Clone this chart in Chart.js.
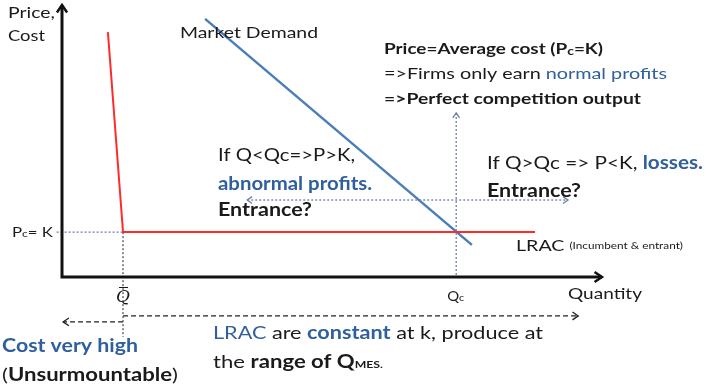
<!DOCTYPE html>
<html lang="en">
<head>
    <meta charset="UTF-8">
    <title>Constant LRAC, entry at Pc = K</title>
    <style>
        body {
            margin: 0;
            background: #fff;
        }
        #chartContainer {
            width: 706px;
            height: 390px;
        }
    </style>
    <script src="https://cdn.jsdelivr.net/npm/chart.js"></script>
</head>
<body>
    <div id="chartContainer">
        <canvas id="myChart"></canvas>
    </div>

    <script>
        // Quantity / cost in arbitrary units (axes run 0..100)
        const lracQty = [8.5, 11.3, 87.6];
        const lracCost = [90, 16.5, 16.5];
        const demandQty = [26.5, 75.9];
        const demandPrice = [94.9, 11.8];
        const qBar = 11.3;     // minimum efficient scale
        const qC = 73;         // perfect competition output
        const kCost = 16.5;    // Pc = K
        const arrowLevel = 28.3;      // level of the "Q<Qc / Q>Qc" arrow
        const arrowFrom = 34.3, arrowTo = 93.7;
        const rangeLevel = -14.3, rangeEnd = 95.6;   // "range of QMES" arrow
        const highLevel = -16.5;                      // "cost very high" arrow

        const pts = (xs, ys) => xs.map((x, i) => ({ x: x, y: ys[i] }));

        const blue = '#4a7ebb';
        const red = '#ff2b2b';
        const guide = '#6d7fa3';
        const textBlue = '#2f5f9e';
        const dark = '#1a1a1a';
        const FONT = 'Lato, "Open Sans", sans-serif';

        // draws a line of mixed-style text, squeezed to a target width
        function runs(ctx, x, y, parts, width) {
            let w = 0;
            parts.forEach(p => {
                ctx.font = (p.bold ? 'bold ' : '') + p.size + 'px ' + FONT;
                p.w = ctx.measureText(p.t).width;
                w += p.w;
            });
            const s = width ? width / w : 1;
            ctx.save();
            ctx.translate(x, y);
            ctx.scale(s, 1);
            ctx.textBaseline = 'middle';
            ctx.textAlign = 'left';
            let cx = 0;
            parts.forEach(p => {
                ctx.font = (p.bold ? 'bold ' : '') + p.size + 'px ' + FONT;
                ctx.fillStyle = p.color || dark;
                ctx.fillText(p.t, cx, p.dy || 0);
                cx += p.w;
            });
            ctx.restore();
        }

        function chevron(ctx, x, y, ang, size, color, lw) {
            ctx.save();
            ctx.strokeStyle = color;
            ctx.lineWidth = lw;
            ctx.setLineDash([]);
            ctx.beginPath();
            ctx.moveTo(x - size * Math.cos(ang - 0.6), y - size * Math.sin(ang - 0.6));
            ctx.lineTo(x, y);
            ctx.lineTo(x - size * Math.cos(ang + 0.6), y - size * Math.sin(ang + 0.6));
            ctx.stroke();
            ctx.restore();
        }

        const annotations = {
            id: 'annotations',
            afterDatasetsDraw(chart) {
                const ctx = chart.ctx;
                const xs = chart.scales.x, ys = chart.scales.y;
                const px = v => xs.getPixelForValue(v);
                const py = v => ys.getPixelForValue(v);

                // axes with arrows
                ctx.save();
                ctx.strokeStyle = '#111';
                ctx.lineWidth = 3;
                ctx.beginPath();
                ctx.moveTo(px(0), py(100));
                ctx.lineTo(px(0), py(0));
                ctx.lineTo(px(100), py(0));
                ctx.stroke();
                ctx.restore();
                chevron(ctx, px(0), py(100), -Math.PI / 2, 9, '#111', 2.5);
                chevron(ctx, px(100), py(0), 0, 9, '#111', 2.5);

                // arrow heads on guide lines
                chevron(ctx, px(qC), py(60.3), -Math.PI / 2, 6, guide, 1.3);
                chevron(ctx, px(arrowFrom), py(arrowLevel), Math.PI, 6, guide, 1.3);
                chevron(ctx, px(arrowTo), py(arrowLevel), 0, 6, guide, 1.3);
                chevron(ctx, px(rangeEnd), py(rangeLevel), 0, 7, '#222', 1.3);
                chevron(ctx, px(0.2), py(highLevel), Math.PI, 7, '#222', 1.3);

                // axis titles
                runs(ctx, 8, 13, [{ t: 'Price,', size: 16 }], 47);
                runs(ctx, 8, 36, [{ t: 'Cost', size: 16 }], 37);
                runs(ctx, 568, 294, [{ t: 'Quantity', size: 16 }], 74);

                // axis marks
                runs(ctx, 12, py(kCost), [
                    { t: 'P', size: 14 }, { t: 'c', size: 10, dy: 2 }, { t: '= K', size: 14 }
                ], 41);
                runs(ctx, px(qC) - 9, 296, [
                    { t: 'Q', size: 14 }, { t: 'c', size: 10, dy: 2 }
                ], 17);
                ctx.save();
                ctx.font = 'italic 17px "DejaVu Serif", serif';
                ctx.fillStyle = dark;
                ctx.textAlign = 'center';
                ctx.textBaseline = 'middle';
                ctx.fillText('Q', px(qBar), 298);
                ctx.strokeStyle = dark;
                ctx.lineWidth = 1;
                ctx.beginPath();
                ctx.moveTo(px(qBar) - 4, 287.5);
                ctx.lineTo(px(qBar) + 5, 287.5);
                ctx.stroke();
                ctx.restore();

                runs(ctx, 180, 33, [{ t: 'Market Demand', size: 15 }], 138);

                runs(ctx, 384, 49, [
                    { t: 'Price=Average cost (P', size: 15, bold: true },
                    { t: 'c', size: 11, bold: true, dy: 2 },
                    { t: '=K)', size: 15, bold: true }
                ], 219);
                runs(ctx, 384, 74, [
                    { t: '=>Firms only earn ', size: 15 },
                    { t: 'normal profits', size: 15, color: textBlue }
                ], 283);
                runs(ctx, 384, 99, [{ t: '=>Perfect competition output', size: 15, bold: true }], 257);

                runs(ctx, 218, 155, [{ t: 'If Q<Qc=>P>K,', size: 18 }], 137);
                runs(ctx, 218, 184, [{ t: 'abnormal profits.', size: 18, bold: true, color: textBlue }], 154);
                runs(ctx, 218, 210, [{ t: 'Entrance?', size: 18, bold: true }], 94);

                runs(ctx, 487, 163, [
                    { t: 'If Q>Qc => P<K, ', size: 18 },
                    { t: 'losses.', size: 18, bold: true, color: textBlue }
                ], 216);
                runs(ctx, 487, 191, [{ t: 'Entrance?', size: 18, bold: true }], 94);

                runs(ctx, 516, 246, [
                    { t: 'LRAC ', size: 15 },
                    { t: '(Incumbent & entrant)', size: 9 }
                ], 167);

                runs(ctx, 213, 333, [
                    { t: 'LRAC', size: 18, color: textBlue },
                    { t: ' are ', size: 18 },
                    { t: 'constant', size: 18, bold: true, color: textBlue },
                    { t: ' at k, produce at', size: 18 }
                ], 330);
                runs(ctx, 213, 362, [
                    { t: 'the ', size: 18 },
                    { t: 'range of Q', size: 18, bold: true },
                    { t: 'MES.', size: 10, bold: true, dy: 3 }
                ], 170);

                runs(ctx, 2, 346, [{ t: 'Cost very high', size: 18, bold: true, color: textBlue }], 136);
                runs(ctx, 2, 375, [
                    { t: '(', size: 18 },
                    { t: 'Unsurmountable', size: 18, bold: true },
                    { t: ')', size: 18 }
                ], 176);
            }
        };

        const dotted = (data, color) => ({
            data: data, borderColor: color || guide, borderWidth: 1.3,
            borderDash: [2, 2], pointRadius: 0, showLine: true, clip: false
        });

        const ctx = document.getElementById('myChart').getContext('2d');
        const myChart = new Chart(ctx, {
            type: 'scatter',
            data: {
                datasets: [
                    dotted([{ x: -1, y: kCost }, { x: qBar, y: kCost }]),
                    dotted([{ x: qBar, y: kCost }, { x: qBar, y: -22 }], '#555'),
                    dotted([{ x: qC, y: 60.3 }, { x: qC, y: 0 }]),
                    dotted([{ x: arrowFrom, y: arrowLevel }, { x: arrowTo, y: arrowLevel }]),
                    {
                        data: [{ x: qBar, y: rangeLevel }, { x: rangeEnd, y: rangeLevel }],
                        borderColor: '#222', borderWidth: 1.2, borderDash: [5, 3],
                        pointRadius: 0, showLine: true, clip: false
                    },
                    {
                        data: [{ x: qBar, y: highLevel }, { x: 0.2, y: highLevel }],
                        borderColor: '#222', borderWidth: 1.2, borderDash: [5, 3],
                        pointRadius: 0, showLine: true, clip: false
                    },
                    {
                        label: 'LRAC',
                        data: pts(lracQty, lracCost),
                        borderColor: red, borderWidth: 2,
                        pointRadius: 0, showLine: true, clip: false
                    },
                    {
                        label: 'Market Demand',
                        data: pts(demandQty, demandPrice),
                        borderColor: blue, borderWidth: 2.5,
                        pointRadius: 0, showLine: true, clip: false
                    }
                ]
            },
            options: {
                responsive: true,
                maintainAspectRatio: false,
                animation: false,
                layout: { padding: { left: 62, right: 104, top: 5, bottom: 113 } },
                scales: {
                    x: { type: 'linear', min: 0, max: 100, display: false },
                    y: { type: 'linear', min: 0, max: 100, display: false }
                },
                plugins: {
                    legend: { display: false },
                    tooltip: { enabled: false }
                }
            },
            plugins: [annotations]
        });
    </script>
</body>
</html>
